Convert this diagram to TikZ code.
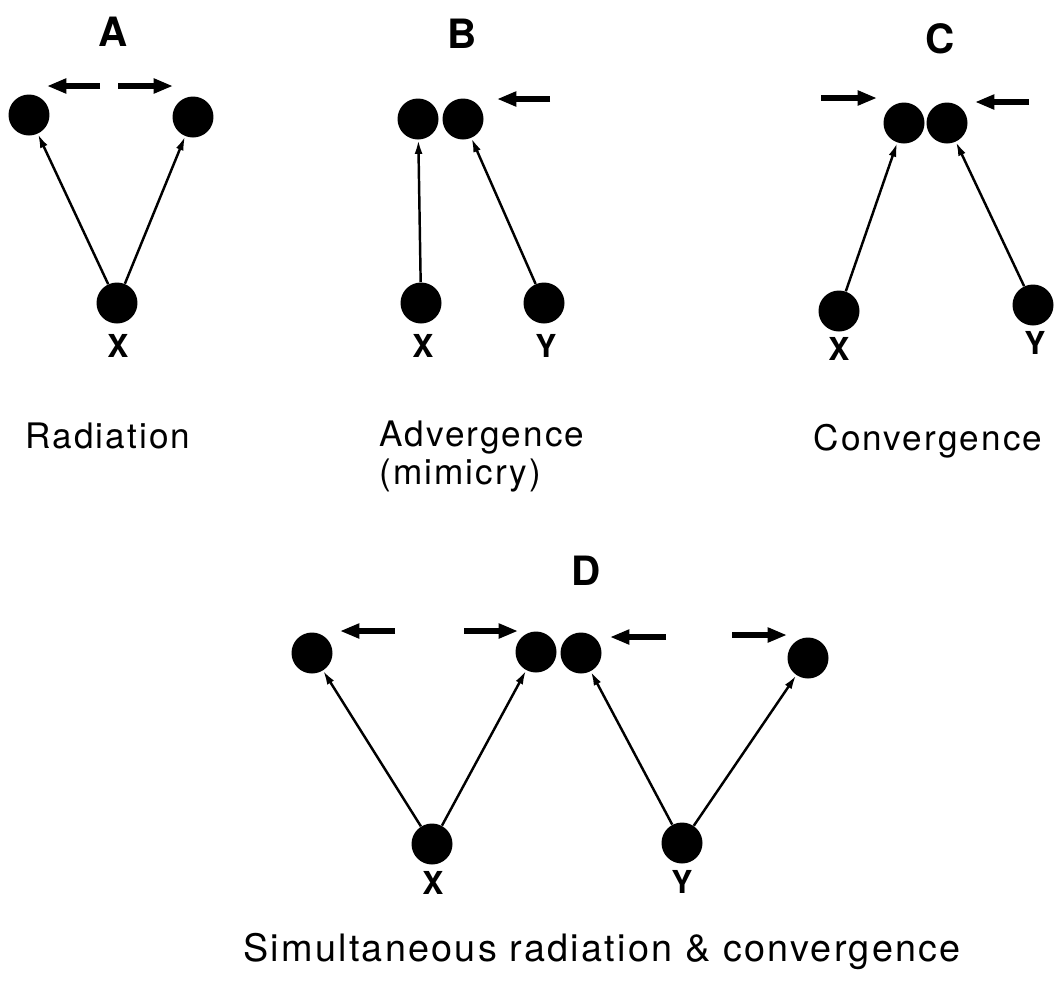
\documentclass[tikz,border=0pt]{standalone}
\usepackage{fontspec}
\setmainfont{TeX Gyre Heros}
\newfontfamily\capfont[LetterSpace=6]{TeX Gyre Heros}
\usetikzlibrary{arrows.meta}
\tikzset{
    % Shapes
    dot/.style={circle, fill=black, minimum size=0.82cm, inner sep=0pt},
    % Text
    panel/.style={anchor=base, font=\fontsize{23}{26}\selectfont\bfseries},
    lbl/.style={anchor=base, font=\fontsize{18}{20}\selectfont\bfseries},
    captext/.style={anchor=base, font=\capfont\fontsize{20}{21.6}\selectfont},
    % Arrows
    flow/.style={-{Latex[length=8pt, width=4.5pt]}, line width=1.4pt},
    move/.style={-{Triangle[length=11pt, width=8pt]}, line width=2.9pt}
}

\begin{document}
\begin{tikzpicture}[x=0.02cm, y=-0.02cm]
\useasboundingbox (0,0) rectangle (1054,988);

% A: radiation
\node[panel] (tA) at (113,46) {A};
\node[dot] (aL) at (29,115) {};
\node[dot] (aR) at (193,117) {};
\node[dot] (aX) at (117,303) {};
\node[lbl] (aXl) at (118,357) {X};
\draw[flow] (aX) -- (aL);
\draw[flow] (aX) -- (aR);
\coordinate (a1s) at (100,86);  \coordinate (a1e) at (47,86);
\coordinate (a2s) at (118,86);  \coordinate (a2e) at (173,86);
\draw[move] (a1s) -- (a1e);
\draw[move] (a2s) -- (a2e);
\node[captext] (cA) at (108,448) {Radiation};

% B: advergence
\node[panel] (tB) at (462,48) {B};
\node[dot] (bL) at (418,119) {};
\node[dot] (bR) at (463,119) {};
\node[dot] (bX) at (421,303) {};
\node[dot] (bY) at (544,303) {};
\node[lbl] (bXl) at (423,357) {X};
\node[lbl] (bYl) at (546,357) {Y};
\draw[flow] (bX) -- (bL);
\draw[flow] (bY) -- (bR);
\coordinate (b1s) at (550,99);  \coordinate (b1e) at (497,99);
\draw[move] (b1s) -- (b1e);
\node[captext, anchor=base west, align=left] (cB) at (373,484) {Advergence\\(mimicry)};

% C: convergence
\node[panel] (tC) at (940,53) {C};
\node[dot] (cL) at (904,123) {};
\node[dot] (cR) at (947,123) {};
\node[dot] (cX) at (839,311) {};
\node[dot] (cY) at (1033,305) {};
\node[lbl] (cXl) at (839,360) {X};
\node[lbl] (cYl) at (1035,354) {Y};
\draw[flow] (cX) -- (cL);
\draw[flow] (cY) -- (cR);
\coordinate (c1s) at (821,98);   \coordinate (c1e) at (877,98);
\coordinate (c2s) at (1029,102); \coordinate (c2e) at (975,102);
\draw[move] (c1s) -- (c1e);
\draw[move] (c2s) -- (c2e);
\node[captext] (cC) at (928,450) {Convergence};

% D: both at once
\node[panel] (tD) at (586,585) {D};
\node[dot] (d1) at (312,653) {};
\node[dot] (d2) at (536,652) {};
\node[dot] (d3) at (581,653) {};
\node[dot] (d4) at (808,658) {};
\node[dot] (dX) at (432,844) {};
\node[dot] (dY) at (682,843) {};
\node[lbl] (dXl) at (433,894) {X};
\node[lbl] (dYl) at (682,893) {Y};
\draw[flow] (dX) -- (d1);
\draw[flow] (dX) -- (d2);
\draw[flow] (dY) -- (d3);
\draw[flow] (dY) -- (d4);
\coordinate (d1s) at (395,631); \coordinate (d1e) at (340,631);
\coordinate (d2s) at (464,631); \coordinate (d2e) at (518,631);
\coordinate (d3s) at (666,637); \coordinate (d3e) at (610,637);
\coordinate (d4s) at (732,635); \coordinate (d4e) at (787,635);
\draw[move] (d1s) -- (d1e);
\draw[move] (d2s) -- (d2e);
\draw[move] (d3s) -- (d3e);
\draw[move] (d4s) -- (d4e);
\node[captext, font=\capfont\fontsize{21.5}{24}\selectfont] (cD) at (602,961) {Simultaneous radiation \& convergence};

\end{tikzpicture}
\end{document}
